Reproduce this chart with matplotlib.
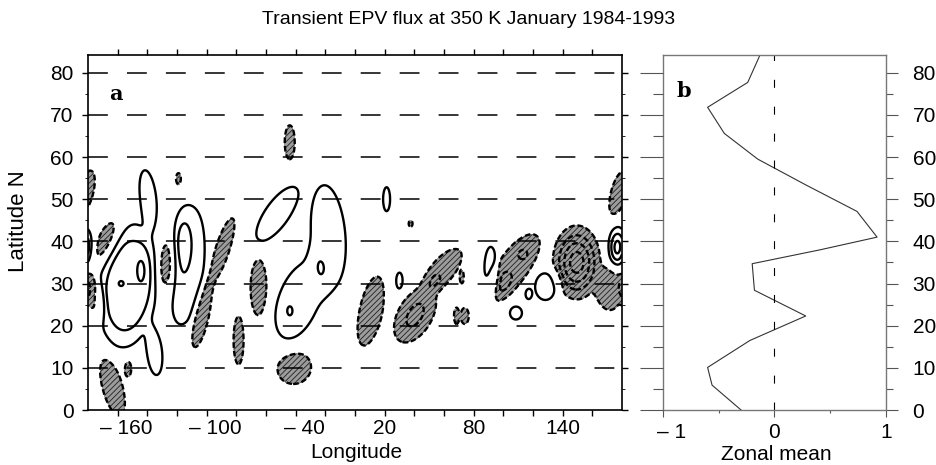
import numpy as np
import matplotlib
matplotlib.use("Agg")
import matplotlib.pyplot as plt
from matplotlib.transforms import ScaledTranslation

plt.rcParams["font.family"] = ["Liberation Sans", "DejaVu Sans"]
plt.rcParams["hatch.color"] = "#202020"
plt.rcParams["hatch.linewidth"] = 0.6

# ==================== DATA ====================
title = "Transient EPV flux at 350 K January 1984-1993"

# panel b: zonal mean profile
zm_lat = [84.2, 77.7, 71.8, 65.6, 59.5, 53.4, 47.1, 41.0, 38.0, 34.7, 28.4, 22.3, 16.5, 10.1, 5.9, 0.0]
zm_val = [-0.13, -0.24, -0.60, -0.45, -0.15, 0.28, 0.74, 0.92, 0.41, -0.20, -0.18, 0.28, -0.22, -0.60, -0.56, -0.30]

# panel a: the flux map, described as the features.
# centre lon / lat, amplitude, half length / half width of the outer (+-1) contour
# in screen px (for weak bumps, |amp| < 1, the e-folding spread), axis angle on
# screen (deg), profile power (2 = gaussian, 4 = flat top with sharp edge)
blob_lon = [-44, -119, 178, -168, -127, -89.5, -103.5, -78.5, -65, -41, -163.5, -153, -175.5,
            10.5, 40.5, 60, 68.5, 74, 72, 37.5, 107, 113.5, 100, 149.5, 172,
            177, 30, 91.5, 129.5, 117, 108.5, 21.3,
            -52.5, -18, -38, -44,
            -153, -157.7, -143.7, -139.5, -135, -113.5, -117]
blob_lat = [63.5, 54.8, 51.5, 40, 34, 38, 22.5, 16.5, 29, 10, 5.5, 10, 27,
            23.5, 22.5, 33.5, 22.3, 22.3, 31.5, 44.2, 34, 37, 29.5, 35, 28.5,
            38.5, 30.5, 33, 29.5, 27.5, 23, 50,
            46.5, 41.5, 26, 23.5,
            29.5, 30, 33.4, 50.5, 13.5, 34, 40.5]
blob_amp = [-1.5, -1.3, -1.6, -2.2, -2.6, -1.6, -1.8, -1.5, -1.6, -1.6, -1.6, -1.3, -1.6,
            -1.6, -2.3, -1.7, -1.3, -1.5, -1.3, -1.3, -1.75, -0.45, -0.6, -4.5, -1.6,
            3.5, 1.4, 1.5, 1.7, 1.4, 1.3, 1.4,
            1.5, 1.45, 1.45, 0.75,
            2.6, 0.6, 0.75, 1.6, 1.5, 1.7, 0.95]
blob_len = [17, 6, 23, 24, 28, 33, 33, 24, 28, 17, 30, 9, 21,
            35, 30, 24, 8, 8, 6, 3, 38, 5, 11, 37, 20,
            21, 9, 24, 15, 5, 6.5, 12,
            32, 50, 40, 6,
            62, 2.8, 13, 27, 22, 58, 24]
blob_wid = [5, 2.5, 8, 9, 8.5, 7, 7.5, 5, 8, 16, 10, 3.5, 7.5,
            11, 17, 11, 2.5, 4, 2, 2, 15, 5, 6.5, 24, 12,
            10, 3.5, 6.5, 12, 3, 6, 3.5,
            12, 17, 20, 3.5,
            30, 2.8, 4.5, 8, 7.4, 17, 7]
blob_ang = [90, 90, 75, 65, 88, 72, 78, 90, 90, 20, 105, 90, 100,
            78, 60, 50, 90, 90, 90, 90, 55, 0, 70, 90, 90,
            90, 90, 90, 80, 90, 90, 90,
            55, 95, 70, 90,
            84, 0, 90, 97, 95, 84, 90]
blob_pow = [4, 4, 4, 2, 2, 4, 4, 4, 4, 4, 4, 4, 4,
            4, 2, 4, 4, 4, 4, 4, 4, 2, 2, 2, 4,
            2, 4, 4, 4, 4, 4, 4,
            4, 4, 4, 2,
            4, 2, 2, 4, 4, 4, 2]

lon_ticks = [-160, -140, -120, -100, -80, -60, -40, -20, 0, 20, 40, 60, 80, 100, 120, 140, 160]
lon_labels = ["\u2013 160", "", "", "\u2013 100", "", "", "\u2013 40", "", "", "20", "", "", "80", "", "", "140", ""]
lat_ticks = [0, 10, 20, 30, 40, 50, 60, 70, 80]
lat_labels = ["0", "10", "20", "30", "40", "50", "60", "70", "80"]
zm_ticks = [-1, 0, 1]
zm_labels = ["\u2013 1", "0", "1"]

# ==================== FIELD ===================
PX_LON = 1.483   # screen px per degree longitude
PX_LAT = 4.221   # screen px per degree latitude
lon = np.linspace(-180, 180, 721)
lat = np.linspace(0, 84.2, 422)
LON, LAT = np.meshgrid(lon, lat)
field = np.zeros_like(LON)
for lo, la, amp, a, b, ang, p in zip(blob_lon, blob_lat, blob_amp, blob_len, blob_wid, blob_ang, blob_pow):
    # outer contour size -> spread
    k = (2 * np.log(abs(amp))) ** (1 / p) if abs(amp) > 1 else 1.0
    dx = ((LON - lo + 180) % 360 - 180) * PX_LON
    dy = (LAT - la) * PX_LAT
    t = np.deg2rad(ang)
    u = dx * np.cos(t) + dy * np.sin(t)
    v = -dx * np.sin(t) + dy * np.cos(t)
    q = (u * k / a) ** 2 + (v * k / b) ** 2
    field += amp * np.exp(-0.5 * q ** (p / 2))

# ==================== PLOT ====================
fig = plt.figure(figsize=(9.37, 4.65), dpi=100)
pos1 = [88 / 937, 1 - 410 / 465, 534 / 937, 355 / 465]
pos2 = [663 / 937, pos1[1], 223 / 937, pos1[3]]
ax1 = fig.add_axes(pos1)
ax2 = fig.add_axes(pos2)

ax1.contourf(lon, lat, field, levels=[-99, -1], colors=["#9c9c9c"], hatches=["//////"], zorder=1)
ax1.contour(lon, lat, field, levels=[-4, -3, -2, -1], colors="k", linewidths=1.7,
            linestyles=[(0, (2.4, 1.2))], zorder=2)
ax1.contour(lon, lat, field, levels=[1, 2, 3], colors="k", linewidths=1.7, linestyles="solid", zorder=2)
for y in lat_ticks[1:]:
    ax1.axhline(y, color="k", lw=1.1, dashes=(13, 12.5), zorder=3)

ax1.set_xlim(-180, 180)
ax1.set_ylim(0, 84.2)
ax1.set_xticks(lon_ticks, lon_labels)
ax1.set_yticks(lat_ticks, lat_labels)
ax1.set_yticks([5, 15, 25, 35, 45, 55, 65, 75], minor=True)
ax1.tick_params(axis="both", which="major", direction="out", length=4, width=1, labelsize=15,
                top=True, right=True)
ax1.tick_params(axis="x", which="major", pad=2.5)
ax1.tick_params(axis="y", which="major", pad=6.5)
ax1.tick_params(axis="y", which="minor", direction="out", length=2, left=True, right=True)
for s in ax1.spines.values():
    s.set_linewidth(1.2)
ax1.set_xlabel("Longitude", fontsize=15)
ax1.xaxis.set_label_coords(0.503, -0.0938)
ax1.set_ylabel("Latitude N", fontsize=16)
ax1.yaxis.set_label_coords(-0.1105, 0.532)
ax1.text(-161, 74.9, "a", fontsize=15, fontweight="bold", family="DejaVu Serif", ha="center", va="center")

# zonal mean
ax2.plot(zm_val, zm_lat, color="#333333", lw=0.8)
ax2.axvline(0, color="k", lw=0.8, dashes=(7.2, 17))
ax2.set_xlim(-1, 1)
ax2.set_ylim(0, 84.2)
ax2.set_xticks(zm_ticks, zm_labels)
ax2.set_xticks([-0.5, 0.5], minor=True)
ax2.yaxis.tick_right()
ax2.set_yticks(lat_ticks, lat_labels)
ax2.set_yticks([5, 15, 25, 35, 45, 55, 65, 75], minor=True)
ax2.tick_params(axis="y", which="major", direction="out", length=8.6, width=0.8, color="#555555",
                right=True, left=False, labelright=True, labelleft=False, labelsize=15, pad=10.5)
ax2.tick_params(axis="y", which="minor", direction="out", length=5, width=0.8, color="#555555",
                right=True, left=False)
ax2.tick_params(axis="x", which="major", direction="out", length=5, width=0.8, color="#555555",
                labelsize=15, pad=4)
ax2.tick_params(axis="x", which="minor", direction="out", length=2.5, width=0.8, color="#555555")
for s in ax2.spines.values():
    s.set_color("#777777")
    s.set_linewidth(1.0)
ax2.set_xlabel("Zonal mean", fontsize=15)
ax2.xaxis.set_label_coords(0.506, -0.0975)
ax2.text(-0.81, 75.7, "b", fontsize=15, fontweight="bold", family="DejaVu Serif", ha="center", va="center")

# long left-hand ticks of panel b
ax3 = fig.add_axes(pos2, sharey=ax2, frameon=False)
ax3.patch.set_visible(False)
ax3.set_xticks([])
ax3.tick_params(axis="y", which="major", direction="out", length=16.5, width=0.8, color="#555555",
                left=True, right=False, labelleft=False, labelright=False)
ax3.tick_params(axis="y", which="minor", direction="out", length=7, width=0.8, color="#555555",
                left=True, right=False)

# the minus sign hangs to the left of the centred number
shift = ScaledTranslation(6 / 72, 0, fig.dpi_scale_trans)
for lab in ax1.get_xticklabels() + ax2.get_xticklabels():
    if lab.get_text().startswith("\u2013"):
        lab.set_transform(lab.get_transform() + shift)

fig.text(0.5, 1 - 20 / 465, title, ha="center", va="center", fontsize=14)

fig.savefig("out.png", dpi=100)
